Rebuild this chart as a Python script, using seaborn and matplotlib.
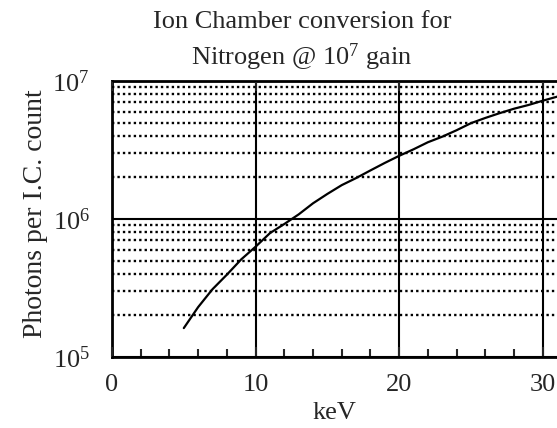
import numpy as np
import pandas as pd
import matplotlib
matplotlib.use("Agg")
import matplotlib.pyplot as plt
import seaborn as sns
from matplotlib.ticker import LogLocator, MultipleLocator, NullFormatter

# 读取图中曲线的数值 (keV, photons per I.C. count)
kev = [5, 6, 7, 8, 9, 10, 11, 12, 13, 14, 15, 16, 17, 18, 19, 20,
       21, 22, 23, 24, 25, 26, 27, 28, 29, 30, 31, 32, 33]
photons = [1.62e5, 2.3e5, 3.1e5, 3.95e5, 5.1e5, 6.3e5, 7.9e5, 9.2e5, 1.08e6,
           1.3e6, 1.52e6, 1.76e6, 1.98e6, 2.25e6, 2.55e6, 2.87e6, 3.2e6,
           3.6e6, 3.95e6, 4.4e6, 4.95e6, 5.4e6, 5.85e6, 6.3e6, 6.7e6, 7.2e6,
           7.7e6, 8.2e6, 8.7e6]
x_ticks = [0, 10, 20, 30]

df = pd.DataFrame({"keV": kev, "photons": photons})

sns.set_style("white")
plt.rcParams['font.family'] = ['Liberation Serif', 'DejaVu Serif']
plt.rcParams['mathtext.fontset'] = 'custom'
plt.rcParams['mathtext.rm'] = 'Liberation Serif'
plt.rcParams['mathtext.it'] = 'Liberation Serif:italic'

fig = plt.figure(figsize=(5.57, 4.28), dpi=100)
# 坐标轴右侧超出画布 (原图被裁切)
ax = fig.add_axes([112 / 557, 71 / 428, 35 * 14.36 / 557, 276 / 428])

sns.lineplot(data=df, x="keV", y="photons", color="black", lw=1.6, ax=ax)

ax.set_yscale("log")
ax.set_xlim(0, 35)
ax.set_ylim(1e5, 1e7)
ax.set_xticks(x_ticks)
ax.xaxis.set_minor_locator(MultipleLocator(2))
ax.yaxis.set_major_locator(LogLocator(base=10, numticks=5))
ax.yaxis.set_minor_locator(LogLocator(base=10, subs=np.arange(2, 10), numticks=20))
ax.yaxis.set_minor_formatter(NullFormatter())

ax.grid(which="major", axis="both", color="black", lw=1.5, ls="-")
ax.grid(which="minor", axis="y", color="black", lw=1.7, ls=(0, (1, 1.3)))
ax.set_axisbelow(False)

for s in ax.spines.values():
    s.set_color("black")
    s.set_linewidth(2)

ax.tick_params(axis="x", which="major", direction="in", length=7, width=1.5,
               top=True, bottom=True, labelsize=19, pad=12)
ax.tick_params(axis="x", which="minor", direction="in", length=6, width=1.5,
               top=False, bottom=True)
ax.tick_params(axis="y", which="both", length=0, labelsize=19, pad=16)

ax.set_xlabel("")
ax.set_ylabel("")
fig.text(334 / 557, 1 - 413 / 428, "keV", fontsize=19, ha="center", va="center")
fig.text(36 / 557, 1 - 214 / 428, "Photons per I.C. count", fontsize=20,
         rotation=90, ha="center", va="center")
fig.text(302 / 557, 1 - 22 / 428, "Ion Chamber conversion for", fontsize=19,
         ha="center", va="center")
fig.text(302 / 557, 1 - 57 / 428, "Nitrogen @ 10$^7$ gain", fontsize=19,
         ha="center", va="center")

plt.savefig("out.png", dpi=100)
plt.close()
